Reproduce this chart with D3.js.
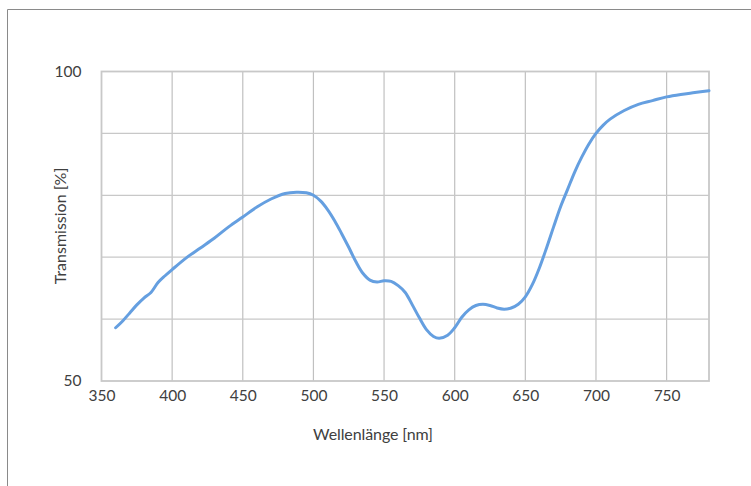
<!DOCTYPE html>
<html>
<head>
<meta charset="utf-8">
<script src="https://cdn.jsdelivr.net/npm/d3@7"></script>
<style>
  html, body { margin: 0; padding: 0; background: #fff; }
  svg { display: block; }
  text { font-family: Lato, "Open Sans", sans-serif; fill: #404040; }
</style>
</head>
<body>
<svg id="chart" width="751" height="486"></svg>
<script>
// Spectral transmission of the filter
const wavelengths = [360, 365, 370, 375, 380, 385, 390, 395, 400, 410, 420, 430, 440, 450, 460, 470, 480, 488, 495,
  500, 505, 510, 515, 520, 525, 530, 535, 540, 545, 550, 555, 560, 565, 570, 575, 580, 585, 589, 595,
  600, 605, 610, 615, 620, 625, 630, 635, 640, 645, 650, 655, 660, 665, 670, 675, 680, 685, 690, 695,
  700, 705, 710, 720, 730, 740, 750, 760, 770, 780];
const transmission = [58.6, 59.7, 61.0, 62.3, 63.4, 64.3, 65.9, 67.0, 68.0, 69.9, 71.5, 73.1, 74.9, 76.5, 78.1, 79.4, 80.3, 80.5, 80.4,
  80.0, 79.1, 77.7, 75.9, 73.8, 71.6, 69.3, 67.4, 66.3, 66.0, 66.2, 66.1, 65.4, 64.3, 62.3, 60.2, 58.3, 57.2, 56.9, 57.4,
  58.6, 60.3, 61.5, 62.2, 62.4, 62.2, 61.8, 61.6, 61.8, 62.4, 63.6, 65.6, 68.3, 71.5, 74.9, 78.2, 81.0, 83.8, 86.2, 88.3,
  90.0, 91.3, 92.3, 93.7, 94.7, 95.3, 95.9, 96.3, 96.6, 96.9];

const xTicks = [350, 400, 450, 500, 550, 600, 650, 700, 750];
const yGrid = [50, 60, 70, 80, 90, 100];
const yTickLabels = [50, 100];

const xTitle = "Wellenlänge [nm]";
const yTitle = "Transmission [%]";

const svg = d3.select("#chart");
const plot = { left: 101.5, right: 709, top: 71.5, bottom: 381 };

const x = d3.scaleLinear().domain([350, 780]).range([plot.left, plot.right]);
const y = d3.scaleLinear().domain([50, 100]).range([plot.bottom, plot.top]);

// outer frame (top and left edges)
svg.append("path")
  .attr("d", "M7.5,486 V9.5 H751")
  .attr("fill", "none")
  .attr("stroke", "#8a8a8a")
  .attr("stroke-width", 1);

// gridlines
const grid = svg.append("g");
grid.selectAll("line.v").data(xTicks.filter(d => d > 350)).join("line")
  .attr("x1", d => x(d)).attr("x2", d => x(d))
  .attr("y1", plot.top).attr("y2", plot.bottom)
  .attr("stroke", "#c0c0c0").attr("stroke-width", 1.2);
grid.selectAll("line.h").data(yGrid.filter(d => d > 50 && d < 100)).join("line")
  .attr("x1", plot.left).attr("x2", plot.right)
  .attr("y1", d => y(d)).attr("y2", d => y(d))
  .attr("stroke", "#c8c8c8").attr("stroke-width", 1.2);

// plot border
svg.append("rect")
  .attr("x", plot.left).attr("y", plot.top)
  .attr("width", plot.right - plot.left).attr("height", plot.bottom - plot.top)
  .attr("fill", "none").attr("stroke", "#c8c8c8").attr("stroke-width", 1.8);

// axes
const xAxis = d3.axisBottom(x).tickValues(xTicks).tickSize(0).tickPadding(9);
svg.append("g")
  .attr("transform", `translate(0,${plot.bottom})`)
  .call(xAxis)
  .call(g => g.select(".domain").remove())
  .call(g => g.selectAll("text").attr("font-size", 15.5).style("font-family", "Lato, sans-serif").attr("fill", "#404040"));

const yAxis = d3.axisLeft(y).tickValues(yTickLabels).tickSize(0).tickPadding(20);
svg.append("g")
  .attr("transform", `translate(${plot.left},0)`)
  .call(yAxis)
  .call(g => g.select(".domain").remove())
  .call(g => g.selectAll("text").attr("font-size", 15.5).style("font-family", "Lato, sans-serif").attr("fill", "#404040"));

// curve
const line = d3.line()
  .x((d, i) => x(wavelengths[i]))
  .y(d => y(d))
  .curve(d3.curveCatmullRom.alpha(0.5));

svg.append("path")
  .datum(transmission)
  .attr("d", line)
  .attr("fill", "none")
  .attr("stroke", "#659fe0")
  .attr("stroke-width", 3)
  .attr("stroke-linecap", "round")
  .attr("stroke-linejoin", "round");

// titles
svg.append("text")
  .attr("x", 373).attr("y", 439.5)
  .attr("text-anchor", "middle")
  .attr("font-size", 16)
  .attr("letter-spacing", -0.1)
  .text(xTitle);

svg.append("text")
  .attr("transform", `translate(65.5,226) rotate(-90)`)
  .attr("text-anchor", "middle")
  .attr("font-size", 16)
  .attr("letter-spacing", 0)
  .text(yTitle);
</script>
</body>
</html>
